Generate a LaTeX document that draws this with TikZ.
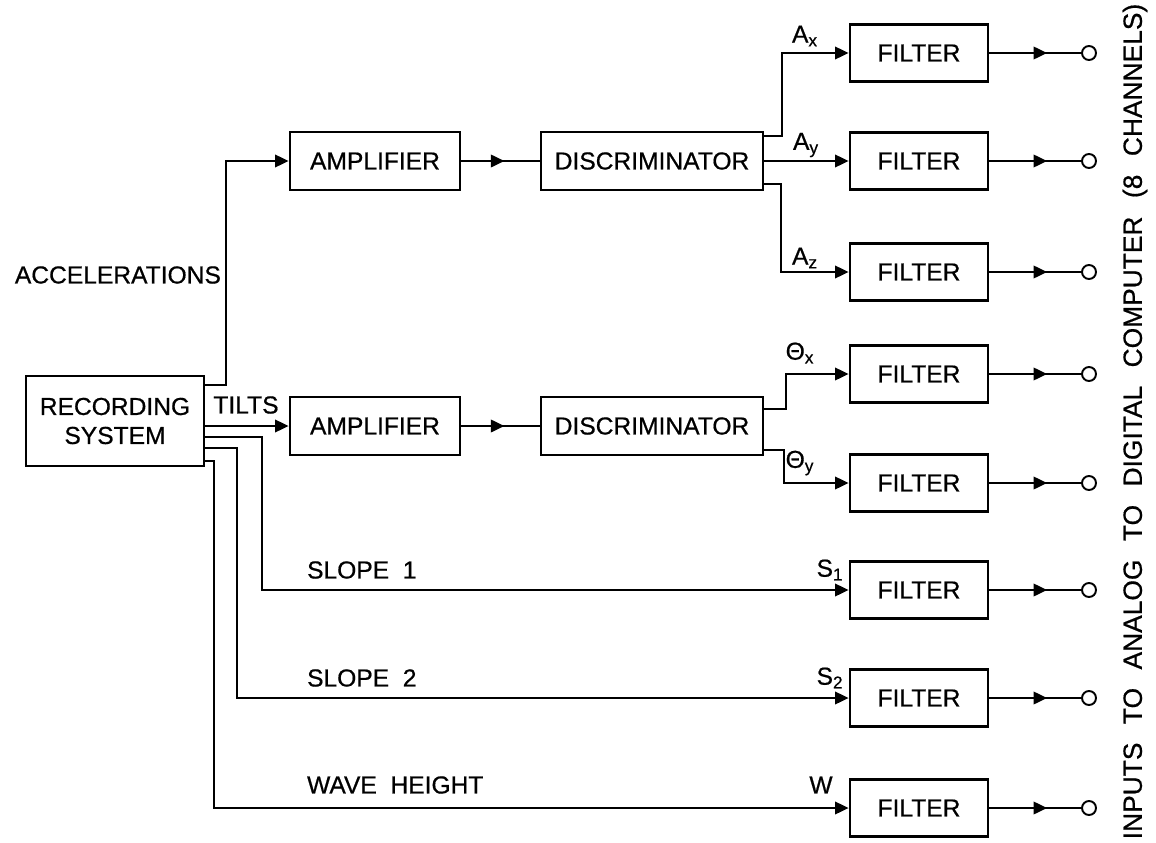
\documentclass[tikz,border=0pt]{standalone}
\usepackage{fontspec}
\setmainfont{Liberation Sans}[FakeBold=0.6]
\usepackage{tikz}
\usetikzlibrary{arrows.meta,positioning,calc,decorations.markings}
\tikzset{
  blk/.style={draw=black,line width=1.6pt,minimum height=1.16cm,align=center,inner sep=2pt},
  fbox/.style={blk,minimum width=2.76cm,minimum height=1.14cm},
  varr/.style={-{Triangle[length=2.7mm,width=2.5mm]},line width=1.1pt},
  midarr/.style={line width=1.1pt,decoration={markings,mark=at position #1 with {\arrow{Triangle[length=2.7mm,width=2.5mm]}}},postaction={decorate}},
  vterm/.style={circle,draw=black,line width=1.1pt,minimum size=0.28cm,inner sep=0pt},
  vlab/.style={inner sep=1pt}
}
\newcommand{\wgap}{\hspace{0.37cm}}
\begin{document}
\begin{tikzpicture}[font=\fontsize{14}{16.5}\selectfont]
  \useasboundingbox (0,0) rectangle (23.12,-16.86);
  \node[blk,minimum width=3.56cm,minimum height=1.80cm] (rec) at (2.30,-8.42) {RECORDING\\SYSTEM};
  \node[blk,minimum width=3.40cm] (amp1) at (7.50,-3.22) {AMPLIFIER};
  \node[blk,minimum width=4.44cm] (disc1) at (13.04,-3.22) {DISCRIMINATOR};
  \node[blk,minimum width=3.40cm] (amp2) at (7.50,-8.52) {AMPLIFIER};
  \node[blk,minimum width=4.44cm] (disc2) at (13.04,-8.52) {DISCRIMINATOR};
  % filters and outputs
  \foreach \i/\y in {1/-1.06,2/-3.22,3/-5.44,4/-7.48,5/-9.66,6/-11.80,7/-13.96,8/-16.16}{
    \node[fbox] (f\i) at (18.38,\y) {FILTER};
    \node[vterm] (o\i) at (21.78,\y) {};
    \draw[midarr=0.63] (f\i.east) -- (o\i.west);
  }
  \draw[midarr=0.55] (amp1.east) -- (disc1.west);
  \draw[midarr=0.55] (amp2.east) -- (disc2.west);
  % recording system outputs
  \draw[varr] ([yshift=-0.2cm]rec.north east) -| ([xshift=-1.26cm]amp1.west) -- (amp1.west);
  \draw[varr] (rec.east |- amp2.west) -- (amp2.west);
  \draw[varr] ([yshift=-1.24cm]rec.north east) -| ([xshift=-11.74cm]f6.west) -- (f6.west);
  \draw[varr] ([yshift=-1.46cm]rec.north east) -| ([xshift=-12.24cm]f7.west) -- (f7.west);
  \draw[varr] ([yshift=-1.72cm]rec.north east) -| ([xshift=-12.70cm]f8.west) -- (f8.west);
  % discriminator outputs
  \draw[varr] ([yshift=-0.1cm]disc1.north east) -| ([xshift=-1.34cm]f1.west) -- (f1.west);
  \draw[varr] (disc1.east) -- (f2.west);
  \draw[varr] ([yshift=0.14cm]disc1.south east) -| ([xshift=-1.36cm]f3.west) -- (f3.west);
  \draw[varr] ([yshift=-0.26cm]disc2.north east) -| ([xshift=-1.26cm]f4.west) -- (f4.west);
  \draw[varr] ([yshift=0.12cm]disc2.south east) -| ([xshift=-1.30cm]f5.west) -- (f5.west);
  % labels
  \node[vlab,anchor=east] (lacc) at (4.46,-5.50) {ACCELERATIONS};
  \node[vlab] (ltilt) at (4.92,-8.10) {TILTS};
  \node[vlab,anchor=west] (ls1) at (6.10,-11.40) {SLOPE\ \ 1};
  \node[vlab,anchor=west] (ls2) at (6.10,-13.56) {SLOPE\ \ 2};
  \node[vlab,anchor=west] (lw) at (6.10,-15.70) {WAVE\ \ HEIGHT};
  \node[vlab] (lax) at (16.10,-0.72) {A\textsubscript{x}};
  \node[vlab] (lay) at (16.12,-2.90) {A\textsubscript{y}};
  \node[vlab] (laz) at (16.10,-5.16) {A\textsubscript{z}};
  \node[vlab] (ltx) at (16.00,-7.06) {Θ\textsubscript{x}};
  \node[vlab] (lty) at (16.00,-9.26) {Θ\textsubscript{y}};
  \node[vlab] (lsa) at (16.60,-11.40) {S\textsubscript{1}};
  \node[vlab] (lsb) at (16.60,-13.56) {S\textsubscript{2}};
  \node[vlab] (lwh) at (16.42,-15.70) {W};
  \node[vlab,rotate=90,font=\fontsize{15}{18}\selectfont] (lout) at (22.70,-8.43) {INPUTS\wgap TO\wgap ANALOG\wgap TO\wgap DIGITAL\wgap COMPUTER\wgap (8\wgap CHANNELS)};
\end{tikzpicture}
\end{document}
